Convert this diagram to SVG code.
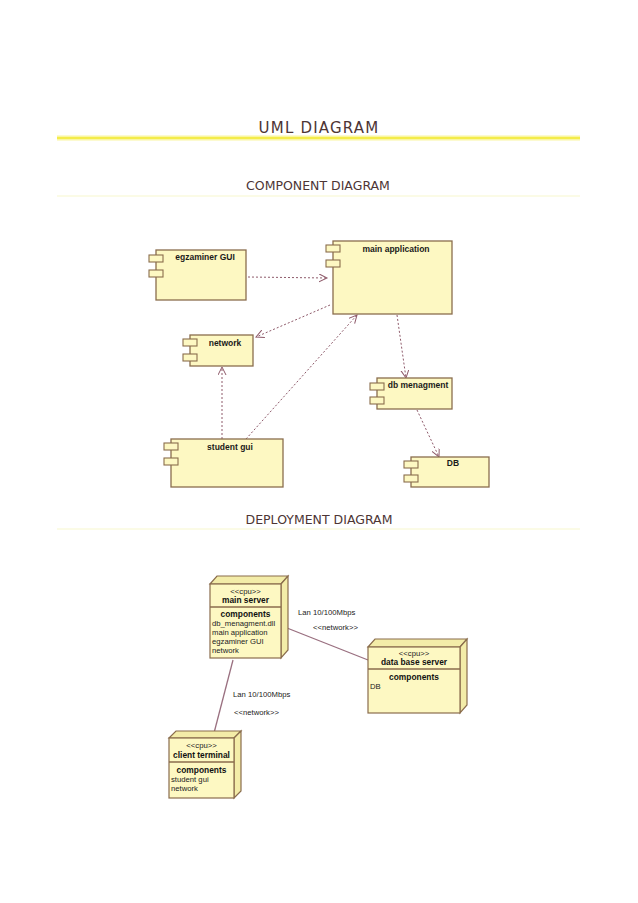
<svg xmlns="http://www.w3.org/2000/svg" width="638" height="903" viewBox="0 0 638 903">
<style>
.hdr{font-family:"DejaVu Sans",Verdana,sans-serif;fill:#4d3535;text-anchor:middle}
.comp{fill:#fdf8c2;stroke:#8a6d4d;stroke-width:1.3}
.port{fill:#fdf8c2;stroke:#8a6d4d;stroke-width:1.1}
.lbl{font-family:"Liberation Sans",Arial,sans-serif;font-weight:bold;font-size:8.5px;fill:#1a1a1a;text-anchor:middle}
.dep{font-family:"Liberation Sans",Arial,sans-serif;font-size:7.7px;fill:#222}
.depb{font-family:"Liberation Sans",Arial,sans-serif;font-size:8.4px;font-weight:bold;fill:#111;text-anchor:middle}
.dash{fill:none;stroke:#8e5a6a;stroke-width:1;stroke-dasharray:2,2;marker-end:url(#open)}
.solid{fill:none;stroke:#9a7080;stroke-width:1.3}
.face{fill:#fdf8c2;stroke:#8a6d4d;stroke-width:1.2}
.side{fill:#f3eca8;stroke:#8a6d4d;stroke-width:1.2}
</style>
<defs>
<marker id="open" markerWidth="10" markerHeight="10" refX="8" refY="4" orient="auto" markerUnits="userSpaceOnUse">
<path d="M0,0 L8,4 L0,8" fill="none" stroke="#8e5a6a" stroke-width="1"/>
</marker>
</defs>
<rect width="638" height="903" fill="#ffffff"/>

<g id="headers">
<text class="hdr" x="319" y="133" font-size="15" letter-spacing="1.2">UML DIAGRAM</text>
<line x1="57" y1="138" x2="580" y2="138" stroke="#faf6a0" stroke-width="5"/>
<line x1="57" y1="138" x2="580" y2="138" stroke="#f4ec4a" stroke-width="2"/>
<text class="hdr" x="318" y="190" font-size="12.5">COMPONENT DIAGRAM</text>
<line x1="57" y1="196" x2="580" y2="196" stroke="#fbfbe6" stroke-width="2"/>
<text class="hdr" x="319" y="524" font-size="12.5">DEPLOYMENT DIAGRAM</text>
<line x1="57" y1="529" x2="580" y2="529" stroke="#fbfbe6" stroke-width="2"/>
</g>

<g id="connectors">
<path class="dash" d="M248,277 L327,278"/>
<path class="dash" d="M330,305 L256,337"/>
<path class="dash" d="M246,439 L357,315"/>
<path class="dash" d="M222,439 L222,367"/>
<path class="dash" d="M397,315 L406,378"/>
<path class="dash" d="M417,410 L439,457"/>
<path class="solid" d="M287,628 L368,660"/>
<path class="solid" d="M233,660 L214,733"/>
<text class="dep" x="298" y="615">Lan 10/100Mbps</text>
<text class="dep" x="313" y="630">&lt;&lt;network&gt;&gt;</text>
<text class="dep" x="233" y="697">Lan 10/100Mbps</text>
<text class="dep" x="234" y="715">&lt;&lt;network&gt;&gt;</text>
</g>

<g id="egzaminer-gui">
<rect class="comp" x="156" y="250" width="90" height="50"/>
<rect class="port" x="149" y="255" width="14" height="7"/>
<rect class="port" x="149" y="270" width="14" height="7"/>
<text class="lbl" x="205" y="260">egzaminer GUI</text>
</g>

<g id="main-application">
<rect class="comp" x="333" y="241" width="119" height="73"/>
<rect class="port" x="326" y="245" width="14" height="7"/>
<rect class="port" x="326" y="260" width="14" height="7"/>
<text class="lbl" x="396" y="252">main application</text>
</g>

<g id="network">
<rect class="comp" x="190" y="335" width="63" height="31"/>
<rect class="port" x="183" y="339" width="14" height="7"/>
<rect class="port" x="183" y="354" width="14" height="7"/>
<text class="lbl" x="225" y="346">network</text>
</g>

<g id="db-menagment">
<rect class="comp" x="377" y="378" width="75" height="31"/>
<rect class="port" x="370" y="383" width="14" height="7"/>
<rect class="port" x="370" y="397" width="14" height="7"/>
<text class="lbl" x="418" y="388">db menagment</text>
</g>

<g id="db">
<rect class="comp" x="411" y="457" width="78" height="30"/>
<rect class="port" x="404" y="461" width="14" height="7"/>
<rect class="port" x="404" y="475" width="14" height="7"/>
<text class="lbl" x="453" y="466">DB</text>
</g>

<g id="student-gui">
<rect class="comp" x="171" y="439" width="112" height="48"/>
<rect class="port" x="164" y="443" width="14" height="7"/>
<rect class="port" x="164" y="458" width="14" height="7"/>
<text class="lbl" x="230" y="450">student gui</text>
</g>

<g id="main-server">
<path class="side" d="M210,584 L217,576 L288,576 L281,584 Z"/>
<path class="side" d="M281,584 L288,576 L288,650 L281,658 Z"/>
<rect class="face" x="210" y="584" width="71" height="74"/>
<line x1="210" y1="607" x2="281" y2="607" stroke="#8a6d4d" stroke-width="1.6"/>
<text class="dep" x="245.5" y="594" text-anchor="middle">&lt;&lt;cpu&gt;&gt;</text>
<text class="depb" x="245.5" y="603">main server</text>
<text class="depb" x="245.5" y="617">components</text>
<text class="dep" x="212" y="626">db_menagment.dll</text>
<text class="dep" x="212" y="635">main application</text>
<text class="dep" x="212" y="644">egzaminer GUI</text>
<text class="dep" x="212" y="653">network</text>
</g>

<g id="data-base-server">
<path class="side" d="M368,647 L375,639 L467,639 L460,647 Z"/>
<path class="side" d="M460,647 L467,639 L467,705 L460,713 Z"/>
<rect class="face" x="368" y="647" width="92" height="66"/>
<line x1="368" y1="669" x2="460" y2="669" stroke="#8a6d4d" stroke-width="1.6"/>
<text class="dep" x="414" y="656" text-anchor="middle">&lt;&lt;cpu&gt;&gt;</text>
<text class="depb" x="414" y="665">data base server</text>
<text class="depb" x="414" y="680">components</text>
<text class="dep" x="370" y="689">DB</text>
</g>

<g id="client-terminal">
<path class="side" d="M169,738 L176,731 L241,731 L234,738 Z"/>
<path class="side" d="M234,738 L241,731 L241,791 L234,798 Z"/>
<rect class="face" x="169" y="738" width="65" height="60"/>
<line x1="169" y1="762" x2="234" y2="762" stroke="#8a6d4d" stroke-width="1.6"/>
<text class="dep" x="201.5" y="748" text-anchor="middle">&lt;&lt;cpu&gt;&gt;</text>
<text class="depb" x="201.5" y="758">client terminal</text>
<text class="depb" x="201.5" y="773">components</text>
<text class="dep" x="171" y="782">student gui</text>
<text class="dep" x="171" y="791">network</text>
</g>
</svg>
